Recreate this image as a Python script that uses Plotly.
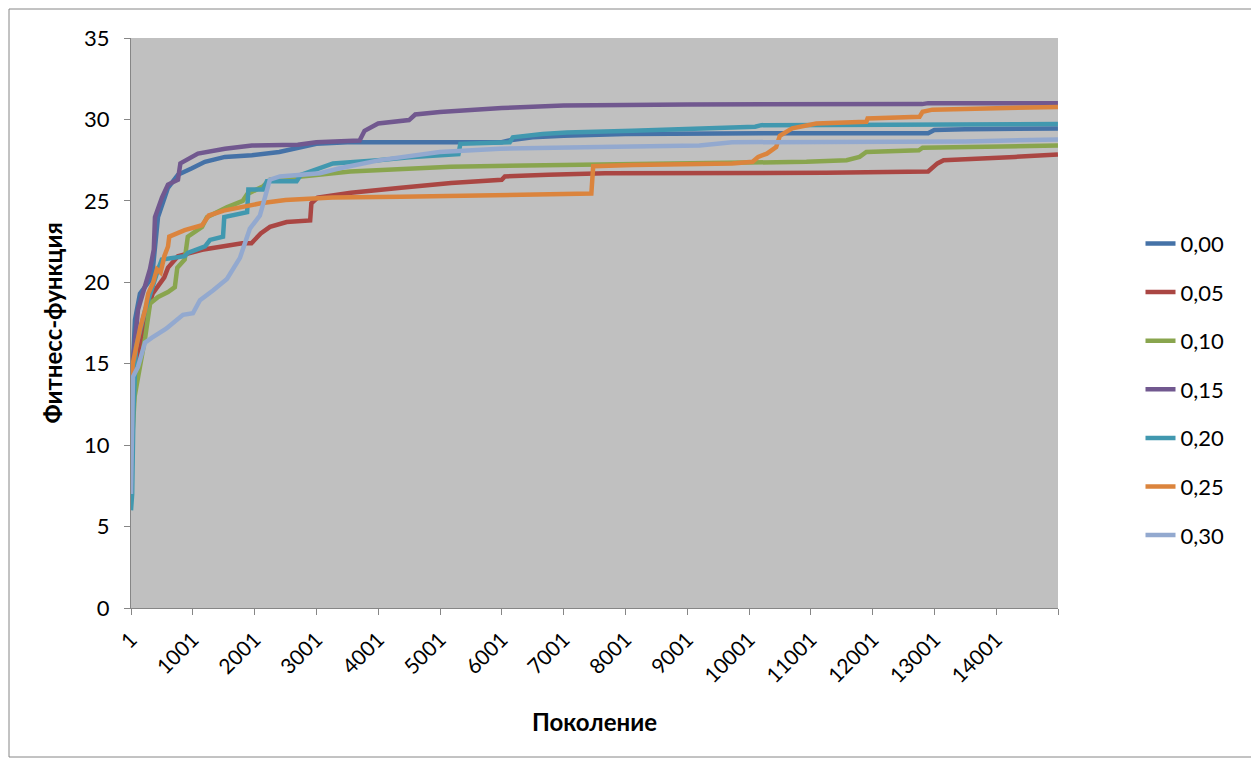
import plotly.graph_objects as go

names = ["0,00", "0,05", "0,10", "0,15", "0,20", "0,25", "0,30"]
colors = ["#4572A7", "#AA4643", "#89A54E", "#71588F", "#4198AF", "#DB843D", "#93A9CF"]

gen_000 = [1, 20, 66, 146, 341, 438, 599, 761, 987, 1197, 1521, 1958, 2400, 2750, 3000, 3500, 6000, 6100, 6500, 7000, 8000, 10500, 12900, 13000, 13500, 15000]
fit_000 = [10, 14, 17.7, 19.3, 20.3, 24.0, 25.8, 26.6, 27.0, 27.4, 27.7, 27.8, 28.0, 28.3, 28.5, 28.6, 28.6, 28.7, 28.9, 29.0, 29.1, 29.15, 29.15, 29.35, 29.4, 29.45]

gen_005 = [1, 60, 150, 250, 350, 540, 600, 760, 1150, 1800, 1950, 2100, 2250, 2520, 2900, 2920, 3020, 3560, 4370, 5180, 6000, 6050, 6750, 7670, 11250, 12900, 13050, 13150, 14300, 14700, 15000]
fit_005 = [10, 14, 16, 17.9, 19.3, 20.3, 20.9, 21.6, 22.0, 22.4, 22.4, 23.0, 23.4, 23.7, 23.8, 24.85, 25.2, 25.5, 25.8, 26.1, 26.3, 26.5, 26.6, 26.7, 26.72, 26.8, 27.3, 27.5, 27.7, 27.8, 27.85]

gen_010 = [1, 60, 230, 310, 440, 600, 710, 750, 870, 900, 920, 1150, 1230, 1550, 1810, 1880, 2140, 2250, 2740, 3550, 5170, 6900, 9750, 10400, 10930, 11580, 11790, 11900, 12750, 12810, 15000]
fit_010 = [9, 13, 16.6, 18.7, 19.1, 19.4, 19.7, 20.9, 21.4, 22.6, 22.8, 23.4, 24.0, 24.6, 25.0, 25.4, 25.9, 26.3, 26.5, 26.8, 27.1, 27.2, 27.3, 27.37, 27.4, 27.5, 27.7, 28.0, 28.1, 28.26, 28.4]

gen_015 = [1, 30, 114, 227, 308, 370, 389, 502, 599, 761, 800, 1084, 1521, 1958, 2700, 3000, 3700, 3780, 4000, 4500, 4600, 5000, 6000, 7000, 9000, 12800, 12900, 15000]
fit_015 = [11, 15, 18.3, 19.7, 20.8, 22.0, 24.0, 25.2, 26.0, 26.3, 27.3, 27.9, 28.2, 28.4, 28.45, 28.6, 28.7, 29.3, 29.75, 29.96, 30.3, 30.45, 30.7, 30.85, 30.92, 30.94, 31.0, 31.0]

gen_020 = [1, 20, 40, 80, 230, 340, 440, 500, 870, 920, 1200, 1280, 1490, 1510, 1880, 1900, 2140, 2200, 2680, 2750, 3270, 4000, 4280, 4500, 5300, 5330, 6130, 6180, 6660, 7050, 8120, 9200, 10100, 10200, 15000]
fit_020 = [6, 7, 12, 16, 18.3, 19.7, 20.8, 21.4, 21.6, 21.8, 22.2, 22.6, 22.8, 24.0, 24.3, 25.7, 25.7, 26.2, 26.2, 26.6, 27.3, 27.5, 27.6, 27.67, 27.87, 28.5, 28.6, 28.9, 29.1, 29.2, 29.3, 29.45, 29.55, 29.65, 29.72]

gen_025 = [1, 30, 150, 230, 280, 360, 420, 480, 540, 600, 620, 870, 1150, 1260, 1500, 1780, 2100, 2500, 3260, 4370, 5450, 6800, 7450, 7480, 8120, 9730, 10060, 10150, 10290, 10440, 10500, 10700, 11090, 11900, 11920, 12760, 12810, 12970, 15000]
fit_025 = [13, 15, 17.2, 18.3, 19.3, 20.0, 20.8, 20.6, 21.6, 22.2, 22.8, 23.2, 23.5, 24.1, 24.4, 24.6, 24.85, 25.05, 25.2, 25.25, 25.3, 25.36, 25.45, 27.13, 27.2, 27.3, 27.4, 27.7, 27.9, 28.3, 29.0, 29.45, 29.75, 29.85, 30.06, 30.16, 30.47, 30.6, 30.77]

gen_030 = [1, 17, 33, 114, 195, 227, 341, 438, 551, 583, 745, 842, 1003, 1117, 1327, 1553, 1764, 1925, 2087, 2168, 2248, 2410, 3057, 3380, 4027, 4997, 5967, 7584, 9200, 9730, 13500, 15000]
fit_030 = [7, 12.0, 14.2, 14.8, 15.8, 16.3, 16.6, 16.8, 17.1, 17.2, 17.7, 18.0, 18.1, 18.9, 19.5, 20.2, 21.5, 23.3, 24.1, 25.3, 26.3, 26.5, 26.7, 27.0, 27.5, 28.0, 28.2, 28.3, 28.4, 28.6, 28.65, 28.77]

gens = [gen_000, gen_005, gen_010, gen_015, gen_020, gen_025, gen_030]
fits = [fit_000, fit_005, fit_010, fit_015, fit_020, fit_025, fit_030]

x_tickvals = [1 + 1000 * i for i in range(16)]
x_ticktext = [str(v) for v in x_tickvals[:-1]] + [""]

FONT = "Lato"

fig = go.Figure()
for i in range(7):
    fig.add_trace(go.Scatter(
        x=gens[i], y=fits[i], mode="lines", name=names[i],
        legendgroup=names[i],
        line=dict(color=colors[i], width=4.5),
    ))

# page has an 8px body margin: figure origin sits at (8, 8)
fig.update_layout(
    width=1251, height=755,
    margin=dict(l=123, r=201, t=30, b=155),
    paper_bgcolor="white",
    plot_bgcolor="#C0C0C0",
    font=dict(family=FONT, size=21, color="black"),
    showlegend=True,
    legend=dict(
        x=1.089, y=0.676, xanchor="left", yanchor="top",
        font=dict(family=FONT, size=22),
        tracegroupgap=17,
        traceorder="grouped",
        bgcolor="rgba(0,0,0,0)",
        itemwidth=30,
    ),
    xaxis=dict(
        range=[1, 15001],
        tickmode="array", tickvals=x_tickvals, ticktext=x_ticktext,
        tickangle=-45,
        ticks="outside", ticklen=6, tickcolor="#868686",
        showline=True, linecolor="#868686", linewidth=1,
        showgrid=False, zeroline=False,
        tickfont=dict(family=FONT, size=21),
        ticklabelstandoff=4,
        title=dict(text="<b>Поколение</b>", font=dict(family=FONT, size=24), standoff=28),
    ),
    yaxis=dict(
        range=[0, 35], dtick=5,
        ticks="outside", ticklen=6, tickcolor="#868686",
        showline=True, linecolor="#868686", linewidth=1,
        showgrid=False, zeroline=False,
        tickfont=dict(family=FONT, size=22),
        ticklabelstandoff=10,
        title=dict(text="<b>Фитнесс-функция</b>", font=dict(family=FONT, size=24), standoff=14),
    ),
    shapes=[dict(
        type="rect", xref="paper", yref="paper",
        x0=(9 - 131) / 927, x1=(1253 - 131) / 927,
        y0=(608 - 757) / 570, y1=(608 - 9) / 570,
        line=dict(color="#868686", width=1), fillcolor="rgba(0,0,0,0)", layer="below",
    )],
)

fig.write_html("out.html")
